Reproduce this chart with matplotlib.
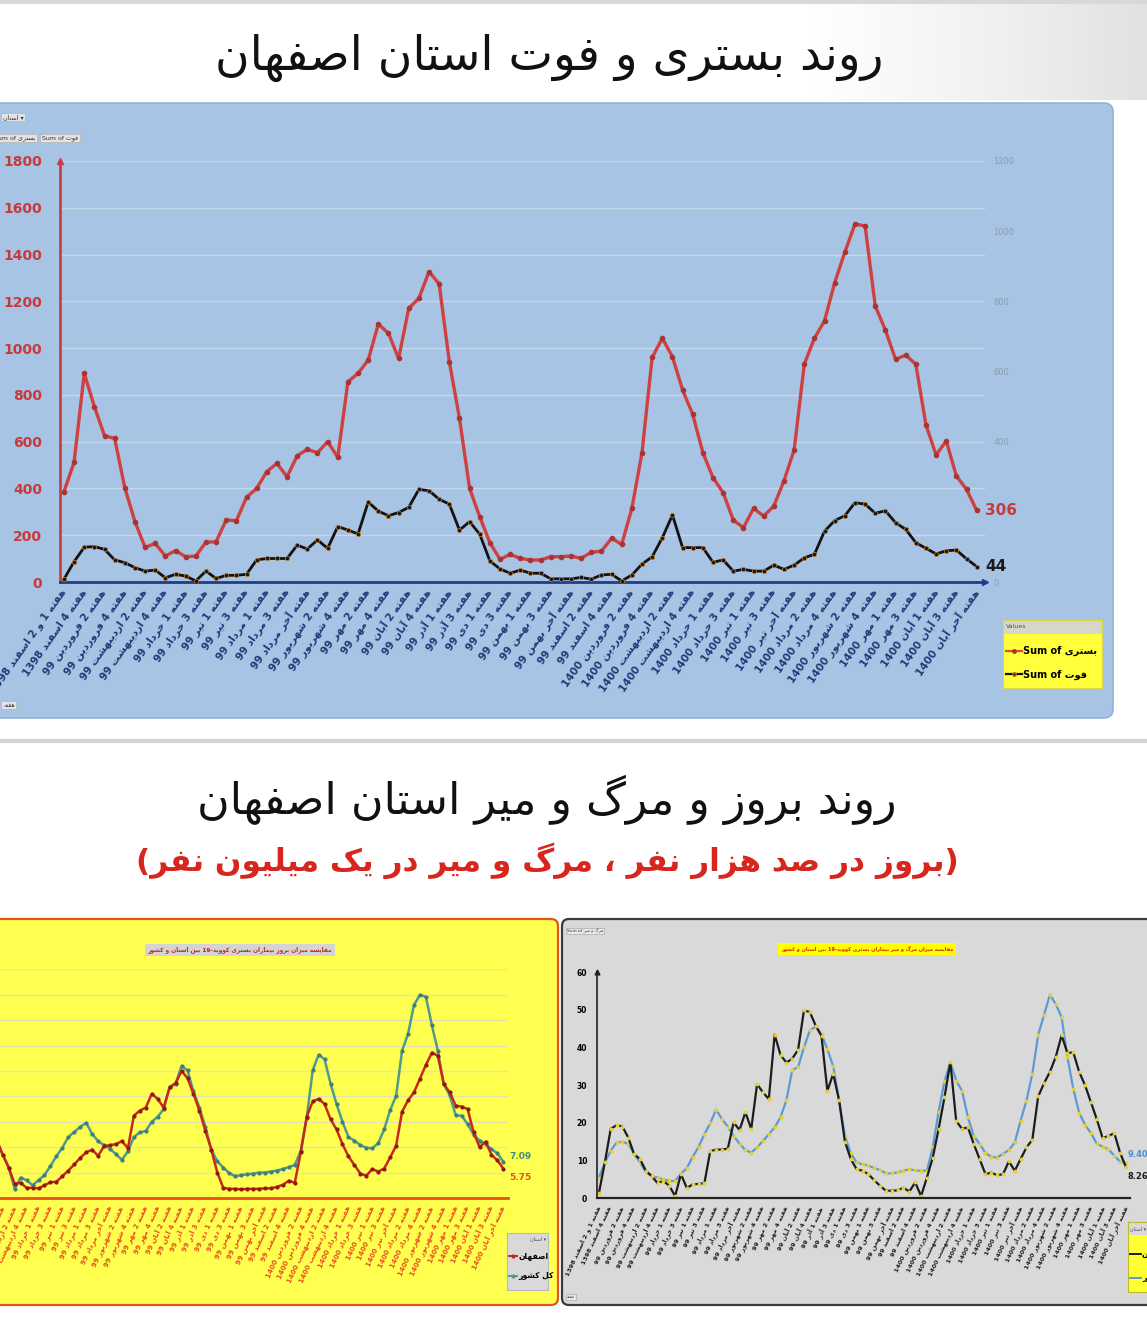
import numpy as np
import matplotlib
matplotlib.use('Agg')
import matplotlib.pyplot as plt
from matplotlib.patches import FancyBboxPatch, Rectangle

plt.rcParams['font.family'] = ['DejaVu Sans']

# ---------------- data ----------------
week_labels = [
    'هفته 1 و 2 اسفند 1398', 'هفته 4 اسفند 1398', 'هفته 2 فروردین 99', 'هفته 4 فروردین 99',
    'هفته 2 اردیبهشت 99', 'هفته 4 اردیبهشت 99', 'هفته 1 خرداد 99', 'هفته 3 خرداد 99',
    'هفته 1 تیر 99', 'هفته 3 تیر 99', 'هفته 1 مرداد 99', 'هفته 3 مرداد 99',
    'هفته آخر مرداد 99', 'هفته 2 شهریور 99', 'هفته 4 شهریور 99', 'هفته 2 مهر 99',
    'هفته 4 مهر 99', 'هفته 2 آبان 99', 'هفته 4 آبان 99', 'هفته 1 آذر 99',
    'هفته 3 آذر 99', 'هفته 1 دی 99', 'هفته 3 دی 99', 'هفته 1 بهمن 99',
    'هفته 3 بهمن 99', 'هفته آخر بهمن 99', 'هفته 2 اسفند 99', 'هفته 4 اسفند 99',
    'هفته 2 فروردین 1400', 'هفته 4 فروردین 1400', 'هفته 2 اردیبهشت 1400', 'هفته 4 اردیبهشت 1400',
    'هفته 1 خرداد 1400', 'هفته 3 خرداد 1400', 'هفته 1 تیر 1400', 'هفته 3 تیر 1400',
    'هفته آخر تیر 1400', 'هفته 2 مرداد 1400', 'هفته 4 مرداد 1400', 'هفته 2 شهریور 1400',
    'هفته 4 شهریور 1400', 'هفته 1 مهر 1400', 'هفته 3 مهر 1400', 'هفته 1 آبان 1400',
    'هفته 3 آبان 1400', 'هفته آخر آبان 1400',
]

# Sum of بستری (left axis)
bastari = [386, 512, 892, 750, 625, 614, 403, 258, 148, 165,
           111, 134, 108, 111, 170, 172, 265, 262, 362, 400,
           472, 507, 450, 540, 567, 553, 600, 533, 856, 892,
           949, 1103, 1063, 956, 1170, 1213, 1327, 1274, 942, 700,
           400, 279, 168, 97, 118, 101, 94, 94, 108, 108,
           111, 101, 127, 132, 187, 161, 315, 553, 960, 1042,
           963, 821, 717, 553, 446, 382, 265, 232, 315, 282,
           325, 433, 564, 931, 1042, 1117, 1280, 1410, 1531, 1522,
           1180, 1077, 952, 970, 931, 671, 543, 603, 453, 396,
           306]
# Sum of فوت (right axis)
fot = [8, 58, 99, 101, 93, 63, 55, 41, 31, 34,
       12, 22, 17, 3, 31, 10, 19, 19, 22, 63,
       67, 67, 67, 105, 94, 120, 96, 158, 148, 137,
       228, 202, 189, 198, 213, 264, 260, 236, 222, 148,
       172, 136, 60, 37, 25, 34, 25, 25, 9, 9,
       9, 13, 8, 20, 22, 3, 20, 51, 72, 126,
       191, 98, 98, 98, 56, 63, 31, 36, 31, 31,
       48, 36, 48, 69, 79, 145, 175, 189, 226, 222,
       196, 203, 169, 150, 112, 96, 80, 89, 91, 66,
       44]

# incidence per 100k
inc_isf = [5, 8, 13, 14, 13, 11.5, 8.5, 6.0, 2.8, 3.0,
           2.0, 2.0, 1.9, 2.5, 3.1, 3.2, 4.3, 5.4, 6.6, 7.9,
           9.0, 9.5, 8.3, 10.2, 10.4, 10.6, 11.2, 9.8, 16.2, 17.2,
           17.8, 20.5, 19.5, 17.8, 21.8, 22.6, 25.0, 23.6, 20.5, 17.2,
           13.2, 9.5, 5.0, 2.0, 1.8, 1.8, 1.7, 1.8, 1.8, 1.8,
           1.9, 1.9, 2.2, 2.6, 3.4, 3.0, 9.0, 16.0, 19.0, 19.5,
           18.5, 15.5, 13.5, 10.6, 8.2, 6.5, 4.8, 4.4, 5.7, 5.2,
           5.8, 8.0, 10.3, 17.0, 19.2, 20.8, 23.5, 26.2, 28.6, 28.0,
           22.4, 20.8, 18.2, 18.0, 17.5, 12.9, 10.0, 11.1, 8.5, 7.4,
           5.75]
inc_cty = [3, 6, 10, 12, 12, 11, 8.5, 6.0, 1.8, 4.0,
           3.5, 2.5, 3.5, 4.5, 6.3, 8.2, 9.9, 12.0, 13.0, 14.0,
           14.8, 12.6, 11.2, 10.4, 9.7, 8.6, 7.5, 9.2, 12.0, 12.9,
           13.2, 15.0, 16.0, 17.5, 21.8, 22.5, 26.0, 25.1, 21.0, 17.8,
           14.0, 9.5, 7.2, 6.0, 4.9, 4.3, 4.5, 4.7, 4.8, 5.0,
           5.0, 5.2, 5.4, 5.7, 6.1, 6.5, 9.3, 15.8, 25.1, 28.2,
           27.3, 22.5, 18.5, 15.0, 12.0, 11.3, 10.4, 9.9, 9.8, 10.8,
           13.5, 17.3, 20.1, 29.0, 32.3, 38.0, 40.0, 39.6, 34.0, 29.0,
           22.4, 20.2, 16.3, 16.2, 14.5, 12.5, 11.3, 10.6, 9.6, 8.8,
           7.09]

# mortality per million
mort_isf = [1.5, 9.5, 18.4, 19.4, 19.0, 16.1, 11.7, 10.4, 7.3, 5.9,
            4.0, 4.6, 3.3, 0.6, 6.4, 2.7, 3.7, 3.8, 4.0, 12.5,
            12.9, 12.9, 13.2, 20.1, 18.1, 22.8, 18.4, 30.3, 28.1, 26.3,
            43.4, 38.0, 36.0, 37.0, 39.4, 49.8, 49.4, 45.8, 43.0, 28.5,
            33.0, 26.0, 15.0, 10.4, 7.7, 7.3, 6.4, 4.8, 3.3, 2.0,
            2.0, 2.1, 2.8, 1.8, 4.2, 0.6, 5.5, 10.8, 18.4, 26.8,
            36.1, 20.5, 18.4, 18.8, 14.4, 10.4, 6.4, 6.8, 6.1, 6.4,
            9.8, 7.3, 10.4, 13.5, 15.5, 27.0, 30.5, 33.5, 37.5, 43.2,
            38.5, 38.7, 33.5, 30.0, 25.5, 21.0, 16.0, 16.5, 17.3, 12.0,
            8.26]
mort_cty = [5.5, 9.5, 12.6, 14.8, 15.0, 14.4, 11.8, 9.5, 7.0, 5.8,
            5.5, 5.0, 4.6, 4.6, 6.5, 8.0, 11.0, 13.6, 17.0, 19.9,
            23.5, 21.0, 19.0, 16.5, 14.5, 12.8, 12.1, 13.5, 15.2, 17.0,
            18.8, 21.5, 26.0, 34.0, 34.8, 40.0, 44.5, 45.5, 43.5, 39.5,
            35.0, 26.0, 16.5, 12.0, 9.5, 9.0, 8.7, 8.0, 7.5, 6.6,
            6.6, 6.9, 7.3, 7.7, 7.4, 7.3, 7.3, 13.5, 23.0, 31.0,
            36.0, 31.2, 28.5, 21.5, 16.5, 14.4, 12.0, 11.0, 10.8, 11.8,
            12.8, 14.8, 20.6, 25.9, 33.0, 43.3, 48.6, 54.0, 51.5, 48.0,
            37.4, 29.0, 22.7, 19.5, 17.3, 14.5, 13.7, 13.0, 11.3, 9.7,
            9.40]

# ---------------- persian text helper (no shaping in matplotlib) ----------------
FORMS = {
    'ا': (0xFE8D, 0xFE8E, None, None), 'آ': (0xFE81, 0xFE82, None, None),
    'ب': (0xFE8F, 0xFE90, 0xFE91, 0xFE92), 'پ': (0xFB56, 0xFB57, 0xFB58, 0xFB59),
    'ت': (0xFE95, 0xFE96, 0xFE97, 0xFE98), 'ث': (0xFE99, 0xFE9A, 0xFE9B, 0xFE9C),
    'ج': (0xFE9D, 0xFE9E, 0xFE9F, 0xFEA0), 'چ': (0xFB7A, 0xFB7B, 0xFB7C, 0xFB7D),
    'ح': (0xFEA1, 0xFEA2, 0xFEA3, 0xFEA4), 'خ': (0xFEA5, 0xFEA6, 0xFEA7, 0xFEA8),
    'د': (0xFEA9, 0xFEAA, None, None), 'ذ': (0xFEAB, 0xFEAC, None, None),
    'ر': (0xFEAD, 0xFEAE, None, None), 'ز': (0xFEAF, 0xFEB0, None, None),
    'ژ': (0xFB8A, 0xFB8B, None, None),
    'س': (0xFEB1, 0xFEB2, 0xFEB3, 0xFEB4), 'ش': (0xFEB5, 0xFEB6, 0xFEB7, 0xFEB8),
    'ص': (0xFEB9, 0xFEBA, 0xFEBB, 0xFEBC), 'ض': (0xFEBD, 0xFEBE, 0xFEBF, 0xFEC0),
    'ط': (0xFEC1, 0xFEC2, 0xFEC3, 0xFEC4), 'ظ': (0xFEC5, 0xFEC6, 0xFEC7, 0xFEC8),
    'ع': (0xFEC9, 0xFECA, 0xFECB, 0xFECC), 'غ': (0xFECD, 0xFECE, 0xFECF, 0xFED0),
    'ف': (0xFED1, 0xFED2, 0xFED3, 0xFED4), 'ق': (0xFED5, 0xFED6, 0xFED7, 0xFED8),
    'ک': (0xFB8E, 0xFB8F, 0xFB90, 0xFB91), 'گ': (0xFB92, 0xFB93, 0xFB94, 0xFB95),
    'ل': (0xFEDD, 0xFEDE, 0xFEDF, 0xFEE0), 'م': (0xFEE1, 0xFEE2, 0xFEE3, 0xFEE4),
    'ن': (0xFEE5, 0xFEE6, 0xFEE7, 0xFEE8), 'و': (0xFEED, 0xFEEE, None, None),
    'ه': (0xFEE9, 0xFEEA, 0xFEEB, 0xFEEC), 'ی': (0xFBFC, 0xFBFD, 0xFBFE, 0xFBFF),
}
MIRROR = {'(': ')', ')': '('}


def shape_word(w):
    out = []
    for i, c in enumerate(w):
        f = FORMS.get(c)
        if f is None:
            out.append(MIRROR.get(c, c))
            continue
        p = FORMS.get(w[i - 1]) if i > 0 else None
        n = FORMS.get(w[i + 1]) if i + 1 < len(w) else None
        jp = p is not None and p[2] is not None
        jn = n is not None and f[2] is not None
        k = 3 if (jp and jn) else 1 if jp else 2 if jn else 0
        out.append(chr(f[k]))
    return ''.join(out[::-1])


def fa(s):
    toks = []
    for t in s.split(' '):
        if any(ch in FORMS for ch in t):
            if '-' in t:
                a, b = t.split('-')
                toks.append(b + '-' + shape_word(a))
            else:
                toks.append(shape_word(t))
        else:
            toks.append(t)
    return ' '.join(toks[::-1])


# ---------------- figure ----------------
W, H = 1147, 1341
fig = plt.figure(figsize=(W / 100, H / 100), dpi=100)
fig.patch.set_facecolor('white')


def px_axes(x0, y0, x1, y1):
    return fig.add_axes([x0 / W, 1 - y1 / H, (x1 - x0) / W, (y1 - y0) / H])


bg = fig.add_axes([0, 0, 1, 1])
bg.axis('off')

# top header gradient
grad = np.linspace(0, 1, 256)[None, :] ** 2
bg.imshow(grad, extent=[0, W, 100, 0], cmap=matplotlib.colors.LinearSegmentedColormap.from_list(
    'g', ['#FFFFFF', '#FFFFFF', '#E2E2E2']), aspect='auto', zorder=0)
bg.plot([0, W], [2, 2], color='#D8D8D8', lw=3, zorder=1)
bg.set_xlim(0, W)
bg.set_ylim(H, 0)

bg.add_patch(FancyBboxPatch((-12, 103), 1125, 615, boxstyle='round,pad=0,rounding_size=9',
                            fc='#A7C4E4', ec='#93B2D6', lw=1.2, zorder=1))
bg.plot([0, W], [741, 741], color='#D4D4D8', lw=3, zorder=1)
bg.add_patch(FancyBboxPatch((-12, 919), 570, 386, boxstyle='round,pad=0,rounding_size=7',
                            fc='#FFFF4F', ec='#E2541B', lw=1.6, zorder=1))
bg.add_patch(FancyBboxPatch((562, 919), 600, 386, boxstyle='round,pad=0,rounding_size=7',
                            fc='#D9D9D9', ec='#3A3A3A', lw=1.6, zorder=1))

bg.text(549, 58, fa('روند بستری و فوت استان اصفهان'), fontsize=34, ha='center', va='center',
        color='#111111')
bg.text(547, 800, fa('روند بروز و مرگ و میر استان اصفهان'), fontsize=32, ha='center',
        va='center', color='#111111')
bg.text(547, 861, fa('(بروز در صد هزار نفر ، مرگ و میر در یک میلیون نفر)'), fontsize=22.5,
        ha='center', va='center', color='#D7261E', fontweight='bold')

btn = dict(boxstyle='square,pad=0.25', fc='#E4E4E4', ec='#B8B8B8', lw=0.6)
bg.text(3, 117, fa('استان') + ' ▾', fontsize=4.5, ha='left', va='center', color='#333', bbox=btn)
bg.text(-6, 138, 'Sum of ' + fa('بستری'), fontsize=4.5, ha='left', va='center', color='#333', bbox=btn)
bg.text(42, 138, 'Sum of ' + fa('فوت'), fontsize=4.5, ha='left', va='center', color='#333', bbox=btn)
bg.text(3, 705, fa('هفته'), fontsize=4.5, ha='left', va='center', color='#333', bbox=btn)

# ---------------- top chart ----------------
x = np.arange(len(bastari))
ax = px_axes(60, 161, 985, 582)
ax.patch.set_alpha(0)
ax.set_xlim(-0.39, 90.82)
ax.set_ylim(0, 1800)
ax.set_yticks(range(0, 1801, 200))
ax.yaxis.grid(True, color='#C6D8EE', lw=1)
ax.set_axisbelow(True)
for s in ['top', 'right']:
    ax.spines[s].set_visible(False)
ax.spines['left'].set_color('#C94040')
ax.spines['left'].set_linewidth(2)
ax.spines['bottom'].set_color('#1F3C88')
ax.spines['bottom'].set_linewidth(2)
ax.plot([0], [1], marker='^', ms=5, color='#C94040', transform=ax.transAxes, clip_on=False)
ax.plot([1], [0], marker='>', ms=5, color='#1F3C88', transform=ax.transAxes, clip_on=False)
ax.tick_params(axis='y', length=0, pad=13, labelsize=10, labelcolor='#C83A3A')
for t in ax.get_yticklabels():
    t.set_fontweight('bold')
ax.set_xticks(x[::2])
ax.set_xticklabels([fa(l) for l in week_labels], rotation=55, ha='right', va='center',
                   rotation_mode='anchor', fontsize=7.5, fontweight='bold', color='#1F3A78')
ax.tick_params(axis='x', length=0, pad=6)

ax.plot(x, bastari, color='#CF4040', lw=2.4, marker='o', ms=3, mfc='#A93434', mec='#A93434',
        zorder=3)
ax.annotate(str(bastari[-1]), (x[-1], bastari[-1]), xytext=(6, 0), textcoords='offset points',
            fontsize=11, fontweight='bold', color='#C83A3A', va='center', ha='left')

ax2 = ax.twinx()
ax2.set_ylim(0, 1200)
ax2.set_yticks([0, 400, 600, 800, 1000, 1200])
ax2.tick_params(axis='y', length=0, pad=6, labelsize=6, labelcolor='#8C9CB2')
for s in ax2.spines.values():
    s.set_visible(False)
ax2.plot(x, fot, color='#121212', lw=2, marker='o', ms=3, mfc='#121212', mec='#B8742A',
         mew=0.6, zorder=3)
ax2.annotate(str(fot[-1]), (x[-1], fot[-1]), xytext=(6, 0), textcoords='offset points',
             fontsize=11, fontweight='bold', color='#1A1A1A', va='center', ha='left')

# legend
lg = px_axes(1003, 620, 1102, 688)
lg.set_xlim(0, 1)
lg.set_ylim(0, 1)
lg.set_xticks([])
lg.set_yticks([])
lg.set_facecolor('#FFFF3C')
for s in lg.spines.values():
    s.set_color('#D9D94A')
lg.add_patch(Rectangle((0, 0.8), 1, 0.2, fc='#D6D6CC', ec='none'))
lg.text(0.03, 0.9, 'Values', fontsize=4.5, va='center', color='#555')
lg.plot([0.03, 0.11, 0.19], [0.55, 0.55, 0.55], color='#E05030', lw=1.6, marker='o', ms=2.5,
        markevery=[1], mfc='#A93434', mec='#A93434')
lg.plot([0.03, 0.11, 0.19], [0.2, 0.2, 0.2], color='#121212', lw=1.6, marker='o', ms=2.5,
        markevery=[1], mfc='#121212', mec='#B8742A')
lg.text(0.2, 0.55, 'Sum of ' + fa('بستری'), fontsize=7, fontweight='bold', va='center')
lg.text(0.2, 0.2, 'Sum of ' + fa('فوت'), fontsize=7, fontweight='bold', va='center')

# ---------------- bottom-left chart (incidence) ----------------
bl = px_axes(-36, 969.4, 508, 1198)
bl.patch.set_alpha(0)
bl.set_xlim(-0.5, 90.77)
bl.set_ylim(0, 45)
bl.set_yticks(range(5, 46, 5))
bl.yaxis.grid(True, color='#E3E3B4', lw=1)
bl.set_axisbelow(True)
for s in ['top', 'right', 'left']:
    bl.spines[s].set_visible(False)
bl.spines['bottom'].set_color('#E8501E')
bl.spines['bottom'].set_linewidth(2)
bl.tick_params(axis='y', length=0, labelleft=False)
bl.set_xticks(x[::2])
bl.set_xticklabels([fa(l) for l in week_labels], rotation=65, ha='right', va='center',
                   rotation_mode='anchor', fontsize=5, fontweight='bold', color='#E8501E')
bl.tick_params(axis='x', length=0, pad=6)
bl.plot(x, inc_cty, color='#4F9A8E', lw=1.8, marker='o', ms=2, mfc='#3F7F7A', mec='#3F7F7A')
bl.plot(x, inc_isf, color='#C8281C', lw=1.8, marker='o', ms=2, mfc='#8E1A12', mec='#8E1A12')
bl.annotate(f'{inc_cty[-1]:.2f}', (x[-1], inc_cty[-1]), xytext=(4, 4), textcoords='offset points',
            fontsize=6.5, fontweight='bold', color='#3F8F7F', va='center', ha='left')
bl.annotate(f'{inc_isf[-1]:.2f}', (x[-1], inc_isf[-1]), xytext=(4, -6), textcoords='offset points',
            fontsize=6.5, fontweight='bold', color='#E8501E', va='center', ha='left')

bg.text(240, 950, fa('مقایسه میزان بروز بیماران بستری کووید-19 بین استان و کشور'), fontsize=4.2,
        fontweight='bold', color='#C0281C', ha='center', va='center',
        bbox=dict(boxstyle='square,pad=0.5', fc='#D4D4D4', ec='none'))

lb = px_axes(507, 1233, 548, 1290)
lb.set_xlim(0, 1)
lb.set_ylim(0, 1)
lb.set_xticks([])
lb.set_yticks([])
lb.set_facecolor('#D9D9D9')
for s in lb.spines.values():
    s.set_color('#BBBBBB')
lb.text(0.95, 0.9, fa('استان') + ' ▾', fontsize=3.5, ha='right', va='center', color='#444')
lb.plot([0.05, 0.15, 0.25], [0.6, 0.6, 0.6], color='#C8281C', lw=1.4, marker='o', ms=2,
        markevery=[1])
lb.plot([0.05, 0.15, 0.25], [0.25, 0.25, 0.25], color='#4F9A8E', lw=1.4, marker='o', ms=2,
        markevery=[1])
lb.text(0.27, 0.6, fa('اصفهان'), fontsize=5.5, fontweight='bold', va='center')
lb.text(0.27, 0.25, fa('کل کشور'), fontsize=5.5, fontweight='bold', va='center')

# ---------------- bottom-right chart (mortality) ----------------
br = px_axes(597, 972, 1130, 1198.3)
br.patch.set_alpha(0)
br.set_xlim(-0.34, 90.68)
br.set_ylim(0, 60)
br.set_yticks(range(0, 61, 10))
for s in ['top', 'right']:
    br.spines[s].set_visible(False)
br.spines['left'].set_color('#222')
br.spines['left'].set_linewidth(1.2)
br.spines['bottom'].set_color('#222')
br.spines['bottom'].set_linewidth(1.6)
br.plot([0], [1], marker='^', ms=3.5, color='#222', transform=br.transAxes, clip_on=False)
br.tick_params(axis='y', length=0, pad=7, labelsize=5.5)
for t in br.get_yticklabels():
    t.set_fontweight('bold')
br.set_xticks(x[::2])
br.set_xticklabels([fa(l) for l in week_labels], rotation=65, ha='right', va='center',
                   rotation_mode='anchor', fontsize=4.6, fontweight='bold', color='#222222')
br.tick_params(axis='x', length=0, pad=6)
br.plot(x, mort_cty, color='#5B9BD5', lw=1.6, marker='o', ms=1.8, mfc='#E3CF3A', mec='#E3CF3A')
br.plot(x, mort_isf, color='#1C1C1C', lw=1.6, marker='o', ms=1.8, mfc='#E3CF3A', mec='#E3CF3A')
br.annotate(f'{mort_cty[-1]:.2f}', (x[-1], mort_cty[-1]), xytext=(1, 6), textcoords='offset points',
            fontsize=6, fontweight='bold', color='#4A8FD6', va='center', ha='left')
br.annotate(f'{mort_isf[-1]:.2f}', (x[-1], mort_isf[-1]), xytext=(1, -7), textcoords='offset points',
            fontsize=6, fontweight='bold', color='#1C1C1C', va='center', ha='left')

bg.text(867, 949, fa('مقایسه میزان مرگ و میر بیماران بستری کووید-19 بین استان و کشور'), fontsize=3.6,
        fontweight='bold', color='#E02010', ha='center', va='center',
        bbox=dict(boxstyle='square,pad=0.6', fc='#FFFF00', ec='none'))
bg.text(567, 931, 'Sum of ' + fa('مرگ و میر'), fontsize=3.2, ha='left', va='center', color='#333',
        bbox=dict(boxstyle='square,pad=0.2', fc='#E8E8E8', ec='#AAAAAA', lw=0.5))
bg.text(567, 1297, fa('هفته'), fontsize=3.2, ha='left', va='center', color='#333',
        bbox=dict(boxstyle='square,pad=0.2', fc='#E8E8E8', ec='#AAAAAA', lw=0.5))

lr = px_axes(1128, 1222, 1170, 1292)
lr.set_xlim(0, 1)
lr.set_ylim(0, 1)
lr.set_xticks([])
lr.set_yticks([])
lr.set_facecolor('#FFFF33')
for s in lr.spines.values():
    s.set_color('#BBBB30')
lr.add_patch(Rectangle((0, 0.82), 1, 0.18, fc='#D9D9D9', ec='none'))
lr.text(0.05, 0.91, fa('استان') + ' ▾', fontsize=3.5, va='center', color='#444')
lr.plot([0.04, 0.3], [0.55, 0.55], color='#1C1C1C', lw=1.4)
lr.plot([0.04, 0.3], [0.2, 0.2], color='#5B9BD5', lw=1.4)
lr.text(0.33, 0.55, fa('اصفهان'), fontsize=5.5, fontweight='bold', va='center', ha='left')
lr.text(0.33, 0.2, fa('کل کشور'), fontsize=5.5, fontweight='bold', va='center', ha='left')

fig.savefig('out.png', dpi=100)
